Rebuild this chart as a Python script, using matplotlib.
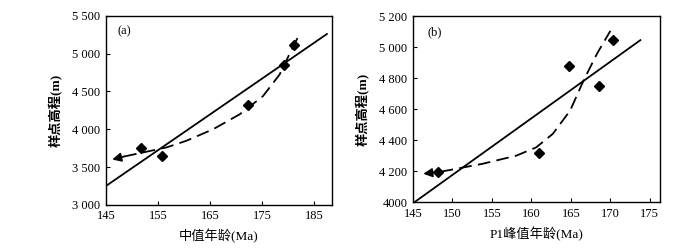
import matplotlib
matplotlib.use("Agg")
from matplotlib import pyplot as plt
from matplotlib.ticker import FuncFormatter

plt.rcParams['font.family'] = ['Liberation Serif', 'Noto Sans CJK SC', 'DejaVu Sans']

# (a) 中值年龄
a_x = [151.8, 155.8, 172.3, 179.2, 181.1]
a_y = [3750, 3649, 4325, 4855, 5118]
a_line_x = [145, 187.5]
a_line_y = [3250, 5260]
a_curve_x = [146.2, 148.5, 152.1, 156.6, 160.4, 165.6, 170.7, 175.2, 178.4, 180.4, 182.0]
a_curve_y = [3600, 3640, 3693, 3759, 3846, 4000, 4197, 4438, 4724, 5009, 5228]

# (b) P1峰值年龄
b_x = [148.2, 160.9, 164.8, 168.6, 170.3]
b_y = [4192, 4314, 4876, 4752, 5045]
b_line_x = [145.2, 173.8]
b_line_y = [4000, 5045]
b_curve_x = [146.3, 148.5, 153.8, 158.1, 160.6, 162.7, 164.9, 166.6, 168.3, 170.0]
b_curve_y = [4183, 4196, 4247, 4300, 4353, 4440, 4590, 4784, 4957, 5105]

fig = plt.figure(figsize=(7, 2.52), dpi=100)
ax1 = fig.add_axes([0.1514, 0.187, 0.323, 0.75])
ax2 = fig.add_axes([0.590, 0.198, 0.353, 0.738])

def thou(v, pos):
    v = int(round(v))
    if v >= 1000:
        return "{} {:03d}".format(v // 1000, v % 1000)
    return str(v)

def draw(ax, px, py, lx, ly, cx, cy):
    ax.plot(lx, ly, color='black', lw=1.3)
    ax.plot(cx[1:], cy[1:], color='black', lw=1.3, ls=(0, (7, 3.5)))
    ax.annotate('', xy=(cx[0], cy[0]), xytext=(cx[1], cy[1]),
                arrowprops=dict(arrowstyle='-|>', color='black', lw=1.3,
                                mutation_scale=13, shrinkA=0, shrinkB=0))
    ax.plot(px, py, 'D', color='black', ms=5.5)
    ax.tick_params(direction='in', length=3, width=0.8, labelsize=9, pad=4)
    for s in ax.spines.values():
        s.set_linewidth(1.0)

draw(ax1, a_x, a_y, a_line_x, a_line_y, a_curve_x, a_curve_y)
ax1.set_xlim(145, 188.5)
ax1.set_ylim(3000, 5500)
ax1.set_xticks([145, 155, 165, 175, 185])
ax1.set_yticks([3000, 3500, 4000, 4500, 5000, 5500])
ax1.yaxis.set_major_formatter(FuncFormatter(thou))
ax1.set_xlabel("中值年龄(Ma)", fontsize=9.5, labelpad=5)
ax1.set_ylabel("样点高程(m)", fontsize=9.5, labelpad=7, fontweight='bold')
ax1.text(0.05, 0.92, "(a)", transform=ax1.transAxes, fontsize=9, va='center')

draw(ax2, b_x, b_y, b_line_x, b_line_y, b_curve_x, b_curve_y)
ax2.set_xlim(145, 176.3)
ax2.set_ylim(4000, 5200)
ax2.set_xticks([145, 150, 155, 160, 165, 170, 175])
ax2.set_yticks([4000, 4200, 4400, 4600, 4800, 5000, 5200])
ax2.yaxis.set_major_formatter(FuncFormatter(lambda v, p: "4000" if v == 4000 else thou(v, p)))
ax2.set_xlabel("P1峰值年龄(Ma)", fontsize=9.5, labelpad=5)
ax2.set_ylabel("样点高程(m)", fontsize=9.5, labelpad=7, fontweight='bold')
ax2.text(0.06, 0.915, "(b)", transform=ax2.transAxes, fontsize=9, va='center')

fig.savefig("out.png", dpi=100)
